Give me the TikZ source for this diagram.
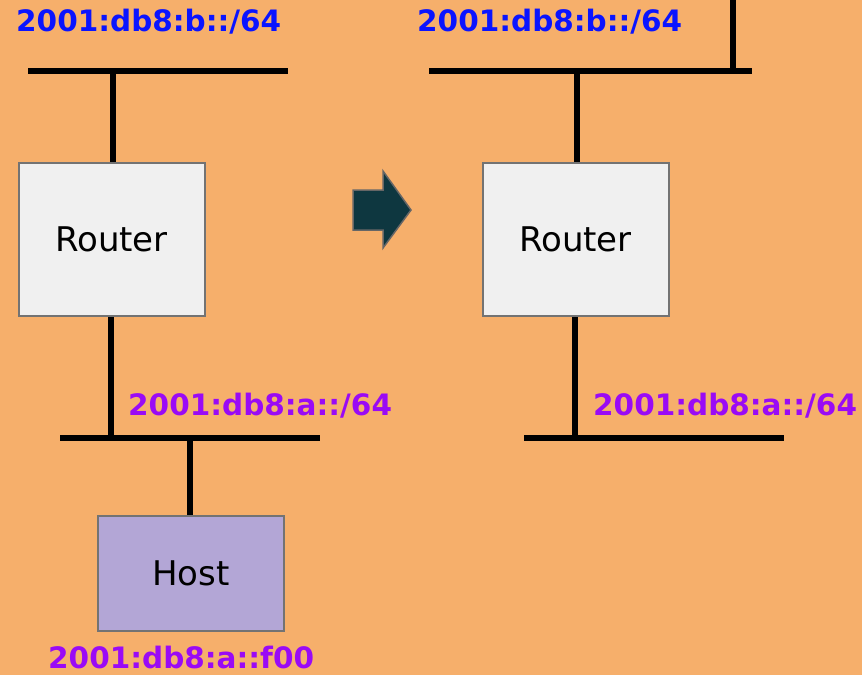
\documentclass[tikz,border=0pt]{standalone}
\usepackage{fontspec}
\setmainfont{DejaVu Sans}

\definecolor{bgorange}{HTML}{F6AF6B}
\definecolor{netblue}{HTML}{0A14FF}
\definecolor{netpurple}{HTML}{9A0AF5}
\definecolor{boxgray}{HTML}{F0F0F0}
\definecolor{hostlilac}{HTML}{B3A6D6}
\definecolor{arrowteal}{HTML}{0E3740}

\tikzset{
  bus/.style={line width=6pt},
  wire/.style={line width=5.5pt},
  device/.style={draw=black!55, line width=2pt, minimum width=186pt,
    inner sep=0pt, font=\fontsize{34}{34}\selectfont},
  netlabel/.style={font=\bfseries\fontsize{29.5}{30}\selectfont, anchor=base west, inner sep=0pt}
}

\begin{document}
\begin{tikzpicture}[x=1pt, y={(0pt,-1pt)}]
          \useasboundingbox[fill=bgorange] (0,0) rectangle (862,675);

          % before
          \coordinate (bL1) at (28,71);
          \coordinate (bR1) at (288,71);
          \coordinate (bT1) at (113,71);
          \coordinate (aL1) at (60,438);
          \coordinate (aR1) at (320,438);
          \coordinate (aT1) at (111,438);
          \coordinate (aH1) at (190,438);

          \node[device, fill=boxgray, minimum height=153pt] (router1) at (111.5,239.5) {Router};
          \node[device, fill=hostlilac, minimum height=115pt] (host) at (191,573.5) {Host};

          \draw[bus] (bL1) -- (bR1);
          \draw[bus] (aL1) -- (aR1);
          \draw[wire] (bT1) -- (bT1 |- router1.north);
          \draw[wire] (aT1 |- router1.south) -- (aT1);
          \draw[wire] (aH1) -- (aH1 |- host.north);

          \node[netlabel, text=netblue] (bnet1) at (16,31) {2001:db8:b::/64};
          \node[netlabel, text=netpurple] (anet1) at (128,415) {2001:db8:a::/64};
          \node[netlabel, text=netpurple] (hostaddr) at (48,668) {2001:db8:a::f00};

          % arrow
          \filldraw[draw=black!60, line width=1.5pt, fill=arrowteal]
            (353,190) -- (383,190) -- (383,171) -- (411,210) -- (383,248)
            -- (383,230) -- (353,230) -- cycle;

          % after
          \coordinate (bL2) at (429,71);
          \coordinate (bR2) at (752,71);
          \coordinate (bT2) at (577,71);
          \coordinate (bU2) at (733,71);
          \coordinate (up) at (733,0);
          \coordinate (aL2) at (524,438);
          \coordinate (aR2) at (784,438);
          \coordinate (aT2) at (575,438);

          \node[device, fill=boxgray, minimum height=153pt] (router2) at (575.5,239.5) {Router};

          \draw[bus] (bL2) -- (bR2);
          \draw[bus] (aL2) -- (aR2);
          \draw[wire] (up) -- (bU2);
          \draw[wire] (bT2) -- (bT2 |- router2.north);
          \draw[wire] (aT2 |- router2.south) -- (aT2);

          \node[netlabel, text=netblue] (bnet2) at (417,31) {2001:db8:b::/64};
          \node[netlabel, text=netpurple] (anet2) at (593,415) {2001:db8:a::/64};
\end{tikzpicture}
\end{document}
